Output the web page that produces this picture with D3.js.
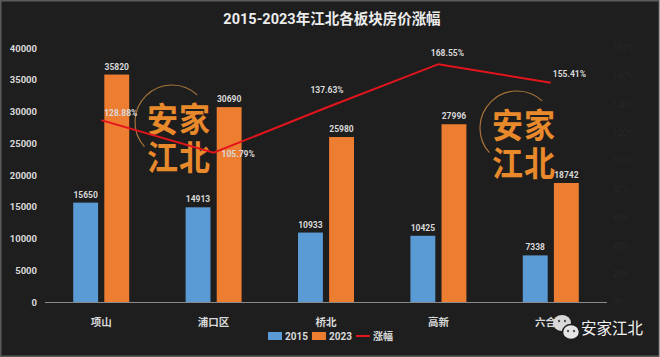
<!DOCTYPE html>
<html><head><meta charset="utf-8">
<script src="https://cdn.jsdelivr.net/npm/d3@7/dist/d3.min.js"></script>
<style>
html,body{margin:0;padding:0;background:#1e1e1e;}
svg{display:block;}
</style></head>
<body>
<svg id="c" width="660" height="357"></svg>
<script>
const categories = ["项山", "浦口区", "桥北", "高新", "六合区"];
const series2015 = [15650, 14913, 10933, 10425, 7338];
const series2023 = [35820, 30690, 25980, 27996, 18742];
const growth = [1.2888, 1.0579, 1.3763, 1.6855, 1.5541];
const seriesNames = ["2015", "2023", "涨幅"];
const leftTicks = [0, 5000, 10000, 15000, 20000, 25000, 30000, 35000, 40000];
const rightTicks = [0, 0.2, 0.4, 0.6, 0.8, 1.0, 1.2, 1.4, 1.6, 1.8];
const title = "2015-2023年江北各板块房价涨幅";

const W = 660, H = 357;
const M = {left: 45, right: 607, top: 48, bottom: 302};
const colors = {"2015": "#5b9bd5", "2023": "#ed7d31", line: "#e3151c"};
const txt = "#d9d9d9";
const numFont = "Roboto, 'Noto Sans CJK SC', sans-serif";
const cjkFont = "'Noto Sans CJK SC', sans-serif";

const svg = d3.select("#c");
svg.append("rect").attr("width", W).attr("height", H).attr("fill", "#1e1e1e");
// frame
svg.append("rect").attr("x", 0.75).attr("y", 0.75).attr("width", W - 1.5).attr("height", H - 1.5)
  .attr("fill", "none").attr("stroke", "#5a5a5a").attr("stroke-width", 1.5);
svg.append("line").attr("x1", W - 0.5).attr("x2", W - 0.5).attr("y1", 0).attr("y2", H)
  .attr("stroke", "#9a9a9a").attr("stroke-width", 1);

const x = d3.scaleBand().domain(categories).range([M.left, M.right]);
const bw = x.bandwidth();
const xs = d3.scaleBand().domain(["2015", "2023"]).range([bw / 2 - 28, bw / 2 + 28]).paddingInner(0.2);
const y = d3.scaleLinear().domain([0, 40000]).range([M.bottom, M.top]);
const y2 = d3.scaleLinear().domain([0, 1.8]).range([M.bottom, M.top]);

// title
svg.append("text").attr("x", 332).attr("y", 24).attr("text-anchor", "middle")
  .attr("fill", "#ececec").attr("font-family", numFont).attr("font-weight", "bold")
  .attr("font-size", 14.5).text(title);

// left axis
const ga = svg.append("g").attr("transform", `translate(${M.left},0)`)
  .call(d3.axisLeft(y).tickValues(leftTicks).tickSize(0).tickPadding(8).tickFormat(d3.format("d")));
ga.select(".domain").remove();
ga.selectAll("text").attr("fill", txt).attr("font-family", numFont).attr("font-weight", "bold").attr("font-size", 9.5);

// right axis (very faint)
const gr = svg.append("g").attr("transform", `translate(${M.right},0)`)
  .call(d3.axisRight(y2).tickValues(rightTicks).tickSize(0).tickPadding(6).tickFormat(d3.format(".0%")));
gr.select(".domain").remove();
gr.selectAll("text").attr("fill", "#272727").attr("font-family", numFont).attr("font-size", 8.5);

// bars
const rows = categories.map((c, i) => ({c, i, vals: [{k: "2015", v: series2015[i]}, {k: "2023", v: series2023[i]}]}));
const gb = svg.append("g");
const grp = gb.selectAll("g").data(rows).join("g").attr("transform", d => `translate(${x(d.c)},0)`);
grp.selectAll("rect").data(d => d.vals).join("rect")
  .attr("x", d => xs(d.k)).attr("width", xs.bandwidth())
  .attr("y", d => y(d.v)).attr("height", d => y(0) - y(d.v))
  .attr("fill", d => colors[d.k]);
grp.selectAll("text").data(d => d.vals).join("text")
  .attr("x", d => xs(d.k) + xs.bandwidth() / 2).attr("y", d => y(d.v) - 5)
  .attr("text-anchor", "middle").attr("fill", txt).attr("font-family", numFont)
  .attr("font-weight", "bold").attr("font-size", 8.5).text(d => d.v);

// baseline
svg.append("line").attr("x1", M.left).attr("x2", M.right).attr("y1", y(0) + 0.5).attr("y2", y(0) + 0.5)
  .attr("stroke", "#8a8a8a").attr("stroke-width", 1);

// category labels
svg.append("g").selectAll("text").data(categories).join("text")
  .attr("x", d => x(d) + bw / 2).attr("y", 326).attr("text-anchor", "middle")
  .attr("fill", txt).attr("font-family", cjkFont).attr("font-weight", "bold").attr("font-size", 10.5)
  .text(d => d);

// watermark logos (two vertical columns: 安江 / 家北)
function logo(lx, ly) {
  const g = svg.append("g").attr("transform", `translate(${lx},${ly})`);
  g.append("path").attr("transform", "translate(25,20)")
    .attr("d", d3.arc()({innerRadius: 37, outerRadius: 37, startAngle: -2.3, endAngle: 0.75}))
    .attr("fill", "none").attr("stroke", "#a8743c").attr("stroke-width", 1.2);
  const inner = g.append("g").attr("transform", "scale(1,1.1)");
  [["安江", 15.5], ["家北", 47.5]].forEach(([s, cx]) => {
    inner.append("text").attr("x", cx).attr("y", 0)
      .attr("writing-mode", "vertical-lr").style("writing-mode", "vertical-lr")
      .attr("fill", "#e8892b").attr("font-family", cjkFont).attr("font-weight", "bold")
      .attr("font-size", 31).attr("letter-spacing", 4).text(s);
  });
}
logo(147, 102);
logo(492, 108);

// line
const pts = categories.map((c, i) => ({c, i, v: growth[i], px: x(c) + bw / 2, py: y2(growth[i])}));
svg.append("path").datum(pts)
  .attr("d", d3.line().x(d => d.px).y(d => d.py))
  .attr("fill", "none").attr("stroke", colors.line).attr("stroke-width", 2);
const labelOffsets = [[3, -7, "start"], [8, 1, "start"], [1, -18, "middle"], [9, -11, "middle"], [2, -9, "start"]];
svg.append("g").selectAll("text").data(pts).join("text")
  .attr("x", d => d.px + labelOffsets[d.i][0]).attr("y", d => d.py + labelOffsets[d.i][1])
  .attr("dy", "0.35em").attr("text-anchor", d => labelOffsets[d.i][2])
  .attr("fill", txt).attr("font-family", numFont).attr("font-weight", "bold").attr("font-size", 8.5)
  .text(d => d3.format(".2%")(d.v));

// legend
const lg = svg.append("g").attr("transform", "translate(268,336)");
const litems = [{k: "2015", type: "rect", c: colors["2015"]}, {k: "2023", type: "rect", c: colors["2023"]}, {k: "涨幅", type: "line", c: colors.line}];
let lx = 0;
litems.forEach((it, i) => {
  if (it.type === "rect") {
    lg.append("rect").attr("x", lx).attr("y", -4).attr("width", 14).attr("height", 8).attr("fill", it.c);
  } else {
    lg.append("line").attr("x1", lx).attr("x2", lx + 14).attr("y1", 0).attr("y2", 0).attr("stroke", it.c).attr("stroke-width", 2);
  }
  const t = lg.append("text").attr("x", lx + 17).attr("y", 0).attr("dy", "0.35em")
    .attr("fill", txt).attr("font-family", i < 2 ? numFont : cjkFont).attr("font-weight", "bold")
    .attr("font-size", 10).text(seriesNames[i]);
  lx += 17 + t.node().getComputedTextLength() + 4;
});

// wechat watermark
const wc = svg.append("g");
wc.append("ellipse").attr("cx", 562).attr("cy", 323).attr("rx", 9).attr("ry", 8).attr("fill", "#d8d8d8");
wc.append("ellipse").attr("cx", 571).attr("cy", 332).attr("rx", 8.5).attr("ry", 7.5).attr("fill", "#e6e6e6").attr("stroke", "#1e1e1e").attr("stroke-width", 1.5);
[[559, 321], [565, 321], [568, 331], [574, 331]].forEach(p =>
  wc.append("circle").attr("cx", p[0]).attr("cy", p[1]).attr("r", 1.2).attr("fill", "#555"));
wc.append("text").attr("x", 581).attr("y", 334).attr("fill", "#f2f2f2")
  .attr("font-family", cjkFont).attr("font-size", 15.5).text("安家江北");
</script>
</body></html>
